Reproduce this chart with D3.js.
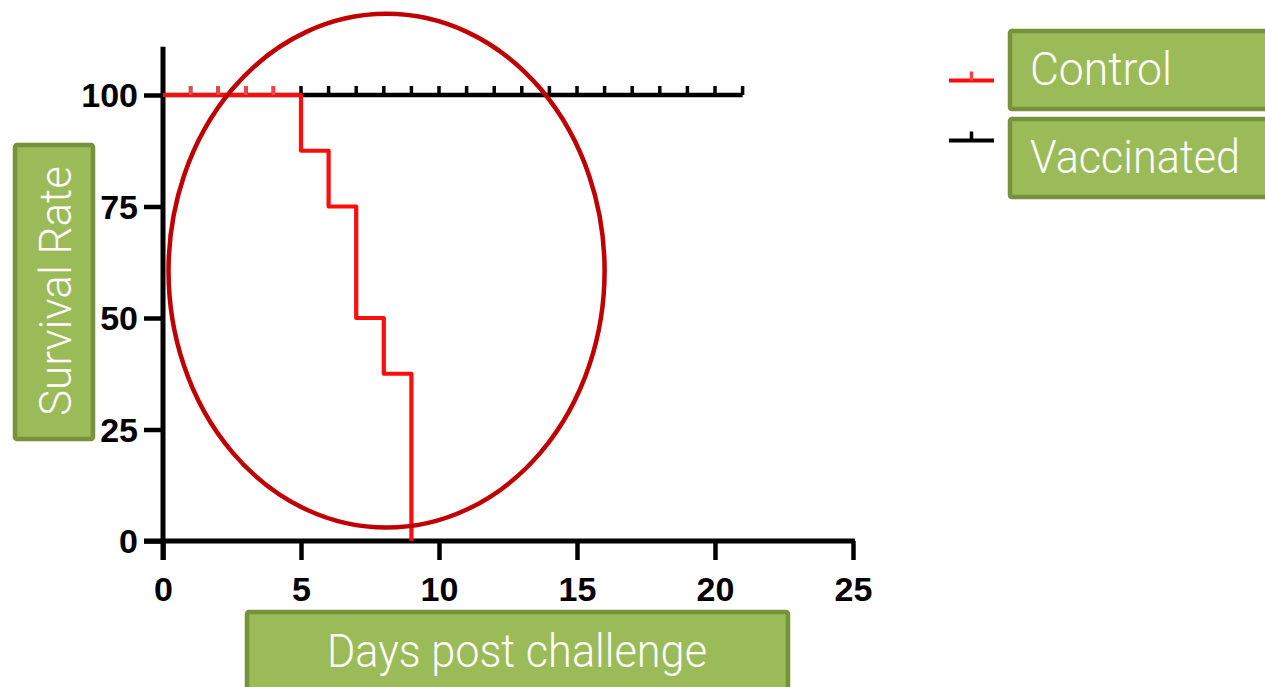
<!DOCTYPE html>
<html>
<head>
<meta charset="utf-8">
<script src="https://cdn.jsdelivr.net/npm/d3@7"></script>
<style>
html,body{margin:0;padding:0;background:#fff;overflow:hidden;}
svg{display:block;}
</style>
</head>
<body>
<svg id="chart" width="1265" height="687"></svg>
<script>
// ---- data ----
const xTicks = [0, 5, 10, 15, 20, 25];
const yTicks = [0, 25, 50, 75, 100];
const controlTimes = [0, 5, 6, 7, 8, 9];
const controlSurvival = [100, 87.5, 75, 50, 37.5, 0];
const controlCensored = [1, 2, 3, 4];
const vaccinatedTimes = [0, 21];
const vaccinatedSurvival = [100, 100];
const vaccinatedCensored = [1,2,3,4,5,6,7,8,9,10,11,12,13,14,15,16,17,18,19,20,21];
const seriesNames = ["Control", "Vaccinated"];
const xLabel = "Days post challenge";
const yLabel = "Survival Rate";

const svg = d3.select("#chart");
const x = d3.scaleLinear().domain([0, 25]).range([163, 853]);
const y = d3.scaleLinear().domain([0, 100]).range([541, 95]);

const green = "#9bbb59", greenDark = "#76923c";
const labelFont = "Roboto, 'Open Sans', sans-serif";
const tickFont = "'Liberation Sans', Arial, sans-serif";

// ---- axes ----
const axisW = 5;
svg.append("line").attr("x1", x(0)).attr("x2", x(0))
  .attr("y1", y(110.8)).attr("y2", y(0) + 19)
  .attr("stroke", "#000").attr("stroke-width", axisW);
svg.append("line").attr("x1", x(0) - 19).attr("x2", x(25) + 2)
  .attr("y1", y(0)).attr("y2", y(0))
  .attr("stroke", "#000").attr("stroke-width", axisW);

const yAxis = d3.axisLeft(y).tickValues(yTicks).tickSize(19).tickPadding(6).tickFormat(d3.format("d"));
const gy = svg.append("g").attr("transform", `translate(${x(0)},0)`).call(yAxis);
gy.select(".domain").remove();
gy.selectAll(".tick line").attr("stroke", "#000").attr("stroke-width", 4.5);
gy.selectAll(".tick text").attr("font-family", tickFont)
  .attr("font-weight", "bold").attr("font-size", 34).attr("fill", "#000").attr("dy", "0.35em");

const xAxis = d3.axisBottom(x).tickValues(xTicks).tickSize(19).tickPadding(17).tickFormat(d3.format("d"));
const gx = svg.append("g").attr("transform", `translate(0,${y(0)})`).call(xAxis);
gx.select(".domain").remove();
gx.selectAll(".tick line").attr("stroke", "#000").attr("stroke-width", 4.5);
gx.selectAll(".tick text").attr("font-family", tickFont)
  .attr("font-weight", "bold").attr("font-size", 34).attr("fill", "#000").attr("dy", "0.71em");

// ---- series ----
const line = d3.line().x(d => x(d[0])).y(d => y(d[1])).curve(d3.curveStepAfter);
const vacc = vaccinatedTimes.map((t, i) => [t, vaccinatedSurvival[i]]);
const ctrl = controlTimes.map((t, i) => [t, controlSurvival[i]]);

svg.append("path").datum(vacc).attr("d", line).attr("fill", "none")
  .attr("stroke", "#000").attr("stroke-width", 4.5);
svg.append("g").selectAll("line").data(vaccinatedCensored).join("line")
  .attr("x1", d => x(d)).attr("x2", d => x(d))
  .attr("y1", y(100)).attr("y2", y(100) - 9)
  .attr("stroke", "#000").attr("stroke-width", 3.5);

svg.append("path").datum(ctrl).attr("d", line).attr("fill", "none")
  .attr("stroke", "#ff0d0d").attr("stroke-width", 4.2).attr("stroke-linejoin", "round");
svg.append("g").selectAll("line").data(controlCensored).join("line")
  .attr("x1", d => x(d)).attr("x2", d => x(d))
  .attr("y1", y(100)).attr("y2", y(100) - 9)
  .attr("stroke", "#f24545").attr("stroke-width", 3.5);

// ---- annotation ellipse ----
svg.append("ellipse")
  .attr("cx", x(8.1)).attr("cy", y(60.6))
  .attr("rx", x(8.1 + 7.9) - x(8.1)).attr("ry", y(60.6 - 57.6) - y(60.6))
  .attr("fill", "none").attr("stroke", "#c00000").attr("stroke-width", 4.5);

// ---- axis title boxes ----
svg.append("rect").attr("x", 15).attr("y", 145).attr("width", 78).attr("height", 294)
  .attr("fill", green).attr("stroke", greenDark).attr("stroke-width", 4.5).attr("rx", 2);
svg.append("text").attr("transform", "translate(71,291) rotate(-90)")
  .attr("text-anchor", "middle").attr("font-family", labelFont).attr("font-weight", 300)
  .attr("font-size", 45).attr("fill", "#fff")
  .attr("textLength", 250).attr("lengthAdjust", "spacingAndGlyphs").text(yLabel);

svg.append("rect").attr("x", 247).attr("y", 612).attr("width", 541).attr("height", 90)
  .attr("fill", green).attr("stroke", greenDark).attr("stroke-width", 4.5).attr("rx", 2);
svg.append("text").attr("x", 517).attr("y", 667)
  .attr("text-anchor", "middle").attr("font-family", labelFont).attr("font-weight", 300)
  .attr("font-size", 47).attr("fill", "#fff")
  .attr("textLength", 380).attr("lengthAdjust", "spacingAndGlyphs").text(xLabel);

// ---- legend ----
const legendY = [80.5, 140.5];
const legendColors = ["#ff0d0d", "#000"];
const tickColors = ["#f24545", "#000"];
const boxY = [31, 119];
const textBase = [85, 173];
const textLen = [142, 210];
seriesNames.forEach((name, i) => {
  svg.append("line").attr("x1", 949).attr("x2", 994).attr("y1", legendY[i]).attr("y2", legendY[i])
    .attr("stroke", legendColors[i]).attr("stroke-width", 4);
  svg.append("line").attr("x1", 971.5).attr("x2", 971.5).attr("y1", legendY[i]).attr("y2", legendY[i] - 9)
    .attr("stroke", tickColors[i]).attr("stroke-width", 3.5);
  svg.append("rect").attr("x", 1010).attr("y", boxY[i]).attr("width", 290).attr("height", 78)
    .attr("fill", green).attr("stroke", greenDark).attr("stroke-width", 4.5).attr("rx", 2);
  svg.append("text").attr("x", 1030).attr("y", textBase[i])
    .attr("font-family", labelFont).attr("font-weight", 300)
    .attr("font-size", 46).attr("fill", "#fff")
    .attr("textLength", textLen[i]).attr("lengthAdjust", "spacingAndGlyphs").text(name);
});
</script>
</body>
</html>
